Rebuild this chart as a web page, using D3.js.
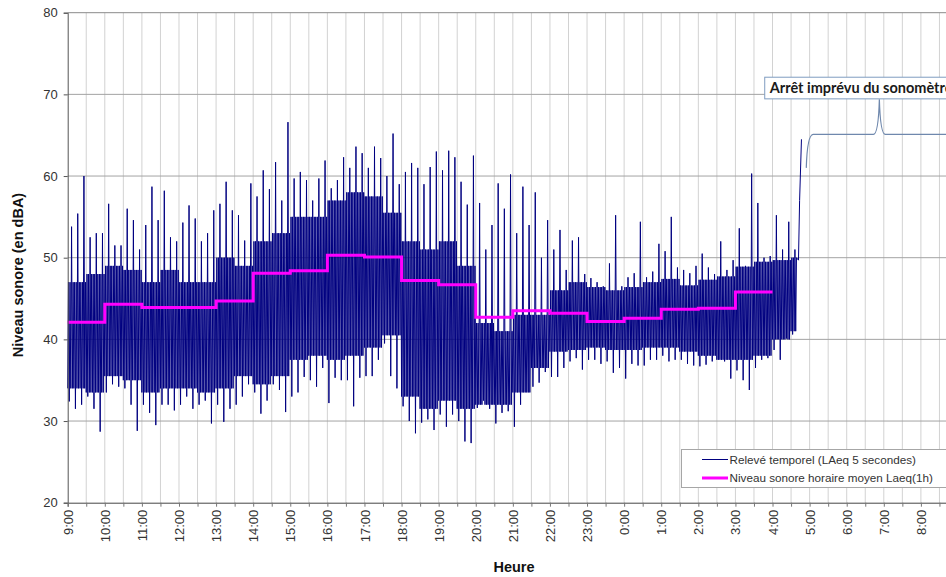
<!DOCTYPE html>
<html>
<head>
<meta charset="utf-8">
<script src="https://cdn.jsdelivr.net/npm/d3@7"></script>
<style>
  body { margin: 0; background: #fff; }
  svg { display: block; font-family: "Liberation Sans", Arial, sans-serif; }
</style>
</head>
<body>
<svg width="946" height="577"></svg>
<script>
// time axis: hours since midnight of day 1 (9 -> 9:00, 28 -> 4:00 next day)
const startHour = 9;
const endHour = 33;
const bucketH = 1 / 6; // 10 minute buckets

// highest 5 s value in each 10 min bucket, 9:00 -> 4:40
const peaks = [
  53.8, 55.4, 60, 52.5, 53, 53,        // 9h
  56.6, 51.5, 51.5, 56, 54.6, 51,      // 10h
  54, 58.7, 54.6, 58.2, 52.5, 52,      // 11h
  54.3, 56.4, 54.8, 52, 53, 55.8,      // 12h
  56.6, 59.3, 55.8, 55.2, 52.1, 59.1,  // 13h
  57.5, 60.7, 58.4, 61.7, 57, 66.6,    // 14h
  59.7, 60.5, 59.5, 57, 59.7, 61.9,    // 15h
  58.5, 59.5, 62.3, 61, 63.6, 62.8,    // 16h
  61, 63.6, 62.2, 60, 65.2, 59,        // 17h
  60.5, 61.6, 61, 59, 61.1, 63,        // 18h
  60.7, 63.1, 62.3, 59.3, 56.5, 62.5,  // 19h
  56.7, 51, 54, 59.1, 56, 60.2,        // 20h
  53, 58.7, 54, 58, 50, 54.6,          // 21h
  51, 53.4, 48.5, 52.1, 52.5, 48,      // 22h
  47.5, 47, 46.5, 49.3, 55.2, 46.5,    // 23h
  47.6, 48.1, 54.4, 47.6, 48.3, 51.7,  // 0h
  50.8, 55, 48.8, 48.5, 48.1, 49,      // 1h
  50.5, 48.8, 48, 52, 48.5, 49.7,      // 2h
  53.6, 49, 60.3, 56.7, 50, 50.2,      // 3h
  55.2, 51, 54.4, 51                   // 4h
];

// lowest 5 s value in each 10 min bucket
const troughs = [
  32.4, 31.5, 32, 33, 31.5, 28.7,
  33.5, 34.5, 34.2, 34, 32, 28.8,
  32, 31, 29.5, 32, 32, 31.3,
  32, 33, 31.5, 32, 32.5, 29.7,
  32, 29.9, 31.5, 32, 33, 34.5,
  33.5, 30.9, 32.5, 34.5, 33.8, 31.1,
  33, 33.5, 35.4, 35, 34.2, 36.5,
  32.2, 35.3, 35, 35, 31.8, 35.3,
  35.5, 35.5, 37.5, 39.5, 35.5, 34,
  31.8, 30, 28.5, 29.8, 30.2, 28.9,
  30.8, 29.3, 30.8, 30, 27.5, 27.3,
  31.6, 32.5, 31.5, 29.7, 31, 31.2,
  29.3, 32, 33.5, 34.2, 34.7, 36,
  35.4, 35.4, 36.5, 37.3, 37.7, 36.3,
  37.5, 37.5, 37, 37.3, 35.9, 36.5,
  35.2, 37, 36.8, 36.8, 37.5, 37.5,
  38, 37.3, 37.5, 37.5, 37, 36.8,
  36.7, 36.9, 37.3, 37.5, 37.3, 35.2,
  36.2, 35, 33.8, 36.5, 37.5, 37.7,
  38.7, 37.5, 40.1, 40.6
];

// dense core of the signal, per half hour (9:00, 9:30, ... 4:30)
const bandHi = [
  47, 48, 49, 48.5, 47, 48.5, 47, 47, 50, 49,
  52, 53, 55, 55, 57, 58, 57.5, 55.5, 52, 51,
  52, 49, 42, 41, 43, 43, 46, 47, 46.4, 46,
  46.4, 47, 47.4, 46.6, 47.3, 47.7, 48.9, 49.5, 49.7, 50
];
const bandLo = [
  34, 33.5, 35.5, 35, 33.5, 34, 34, 33.5, 34, 35.5,
  34.5, 35.5, 37.5, 38, 37.5, 38, 39, 40.5, 33, 31.5,
  32.5, 31.5, 32, 32, 33.5, 36.5, 38.5, 38.7, 39, 38.7,
  38.7, 39, 39, 38.5, 38, 37.5, 37.5, 38, 40, 41
];

// last readings before the sound level meter stopped
const tailHours = [28.70, 28.73, 28.78];
const tailValues = [49.7, 57, 64.5];

// hourly Laeq(1h), 9h -> 3h
const hourlyLaeq = [
  42.1, 44.3, 43.9, 43.9, 44.7, 48.1, 48.4, 50.3, 50.1, 47.2,
  46.7, 42.7, 43.5, 43.2, 42.2, 42.6, 43.7, 43.8, 45.8
];

const yTicks = [20, 30, 40, 50, 60, 70, 80];
const seriesNames = ["Relevé temporel (LAeq 5 secondes)", "Niveau sonore horaire moyen Laeq(1h)"];
const noteText = "Arrêt imprévu du sonomètre";

const svg = d3.select("svg"),
    margin = {top: 12.7, left: 67.7},
    plotW = 890.3,
    plotH = 490;

const x = d3.scaleLinear().domain([startHour, endHour]).range([margin.left, margin.left + plotW]);
const y = d3.scaleLinear().domain([20, 80]).range([margin.top + plotH, margin.top]);

svg.append("rect").attr("width", 946).attr("height", 577).attr("fill", "#fff");

const halfHours = d3.range(startHour, endHour + 0.01, 0.5);

// vertical grid
svg.append("g")
    .selectAll("line")
    .data(halfHours.filter(d => d > startHour))
    .enter().append("line")
    .attr("x1", d => x(d)).attr("x2", d => x(d))
    .attr("y1", y(80)).attr("y2", y(20))
    .attr("stroke", "#d2d2d2")
    .attr("stroke-width", 1);

// horizontal grid
svg.append("g")
    .selectAll("line")
    .data(yTicks.filter(d => d > 20))
    .enter().append("line")
    .attr("x1", x(startHour)).attr("x2", x(endHour))
    .attr("y1", d => y(d)).attr("y2", d => y(d))
    .attr("stroke", d => d === 80 ? "#8a8a8a" : "#a3a3a3")
    .attr("stroke-width", 1);

// 5 second series, drawn as a zigzag through the read values
const seriesPts = [];
peaks.forEach(function (p, k) {
    const t0 = startHour + k * bucketH;
    const j = Math.floor(k / 3);
    const bh = bandHi[j], bl = bandLo[j];
    const seq = [bl, bh, troughs[k], bh, bl, p, bl, bh];
    seq.forEach((v, i) => seriesPts.push([t0 + bucketH * i / seq.length, v]));
});
tailHours.forEach((t, i) => seriesPts.push([t, tailValues[i]]));

const line = d3.line().x(d => x(d[0])).y(d => y(d[1]));

svg.append("path")
    .datum(seriesPts)
    .attr("d", line)
    .attr("fill", "none")
    .attr("stroke", "#000080")
    .attr("stroke-width", 1)
    .attr("stroke-linejoin", "miter");

// hourly average step line
const stepPts = hourlyLaeq.map((v, i) => [startHour + i, v]);
stepPts.push([startHour + hourlyLaeq.length, hourlyLaeq[hourlyLaeq.length - 1]]);

svg.append("path")
    .datum(stepPts)
    .attr("d", line.curve(d3.curveStepAfter))
    .attr("fill", "none")
    .attr("stroke", "#ff00ff")
    .attr("stroke-width", 3);

// axes
const yAxis = svg.append("g")
    .attr("transform", "translate(" + margin.left + ",0)")
    .call(d3.axisLeft(y).tickValues(yTicks).tickSize(4).tickPadding(6));
yAxis.select(".domain").attr("stroke", "#555");
yAxis.selectAll(".tick line").attr("stroke", "#555");
yAxis.selectAll("text").attr("font-size", 13).attr("fill", "#333")
    .attr("font-family", "Liberation Sans, Arial, sans-serif");

const xAxis = svg.append("g")
    .attr("transform", "translate(0," + y(20) + ")")
    .call(d3.axisBottom(x).tickValues(halfHours.filter(d => d < endHour)).tickSize(4)
        .tickFormat(d => Number.isInteger(d) ? (d % 24) + ":00" : ""));
xAxis.select(".domain").attr("stroke", "#444");
xAxis.selectAll(".tick line").attr("stroke", "#777");
xAxis.selectAll("text")
    .attr("font-size", 13).attr("fill", "#333")
    .attr("font-family", "Liberation Sans, Arial, sans-serif")
    .attr("transform", "rotate(-90)")
    .attr("text-anchor", "end")
    .attr("x", -7).attr("y", 0).attr("dy", "0.35em");

// axis titles
svg.append("text")
    .attr("transform", "translate(23,275) rotate(-90)")
    .attr("text-anchor", "middle")
    .attr("font-size", 14.5).attr("font-weight", "bold").attr("fill", "#111")
    .text("Niveau sonore (en dBA)");

svg.append("text")
    .attr("x", 514).attr("y", 572)
    .attr("text-anchor", "middle")
    .attr("font-size", 14.5).attr("font-weight", "bold").attr("fill", "#111")
    .text("Heure");

// legend
const legend = svg.append("g").attr("transform", "translate(681,449)");
legend.append("rect")
    .attr("x", 0.5).attr("y", 0.5).attr("width", 300).attr("height", 38)
    .attr("fill", "#fff").attr("stroke", "#a6a6a6");
const legendStyles = [{color: "#000080", w: 1}, {color: "#ff00ff", w: 3}];
const entries = legend.selectAll("g.entry")
    .data(seriesNames)
    .enter().append("g")
    .attr("transform", (d, i) => "translate(0," + (10.5 + i * 18.5) + ")");
entries.append("line")
    .attr("x1", 21).attr("x2", 47)
    .attr("stroke", (d, i) => legendStyles[i].color)
    .attr("stroke-width", (d, i) => legendStyles[i].w);
entries.append("text")
    .attr("x", 48.5).attr("dy", "0.35em")
    .attr("font-size", 11.7).attr("fill", "#333")
    .text(d => d);

// callout for the meter stop
const braceL = 28.91, braceC = 30.88, braceR = 32.85, braceLevel = 65.1;
const bx = d3.path();
bx.moveTo(x(braceL), y(61));
bx.quadraticCurveTo(x(braceL) + 1, y(braceLevel), x(braceL) + 7, y(braceLevel));
bx.lineTo(x(braceC) - 6, y(braceLevel));
bx.quadraticCurveTo(x(braceC) - 1, y(braceLevel), x(braceC), y(69.4));
bx.quadraticCurveTo(x(braceC) + 1, y(braceLevel), x(braceC) + 6, y(braceLevel));
bx.lineTo(x(braceR) - 7, y(braceLevel));
bx.quadraticCurveTo(x(braceR) - 1, y(braceLevel), x(braceR), y(61));
svg.append("path")
    .attr("d", bx.toString())
    .attr("fill", "none")
    .attr("stroke", "#6f88ad")
    .attr("stroke-width", 1.2);

const boxStart = 27.79;
svg.append("rect")
    .attr("x", x(boxStart)).attr("y", y(72.1))
    .attr("width", 220).attr("height", y(69.45) - y(72.1))
    .attr("fill", "#fff")
    .attr("stroke", "#7f9cc0");
svg.append("text")
    .attr("x", x(boxStart) + 5).attr("y", y(69.45) - 6)
    .attr("font-family", "Lato, 'Open Sans', sans-serif")
    .attr("font-size", 14.5).attr("font-weight", "bold").attr("fill", "#1a1a1a")
    .text(noteText);
</script>
</body>
</html>
